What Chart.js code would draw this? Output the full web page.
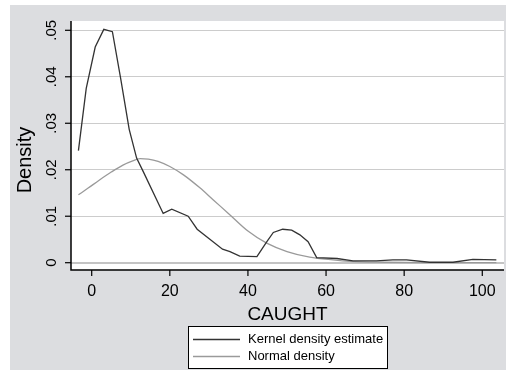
<!DOCTYPE html>
<html lang="en">
<head>
    <meta charset="UTF-8">
    <title>Kernel density of CAUGHT</title>
    <script src="https://cdn.jsdelivr.net/npm/chart.js"></script>
    <style>
        body {
            margin: 0;
            background: #fff;
        }
        .wrap {
            width: 506px;
            height: 371px;
        }
    </style>
</head>
<body>
    <div class="wrap">
        <canvas id="chart" width="506" height="371"></canvas>
    </div>

    <script>
        // kernel density estimate
        const kernelX = [-3.4, -1.4, 0.9, 3.1, 5.3, 7.4, 9.6, 11.5, 13.2, 18.3, 20.5, 24.7, 27.0, 33.5, 35.4, 37.9,
            42.3, 44.8, 46.5, 48.9, 51.2, 53.3, 55.4, 57.6, 62.8, 66.9, 72.9, 77.1, 80.6, 86.5, 92.5, 97.6, 103.6];
        const kernelY = [0.0241, 0.0375, 0.0464, 0.0502, 0.0497, 0.0397, 0.0287, 0.0225, 0.0196, 0.0106, 0.0115, 0.0100,
            0.0072, 0.0029, 0.0024, 0.0014, 0.0013, 0.0045, 0.0065, 0.0072, 0.0070, 0.0060, 0.0045, 0.0011, 0.0009,
            0.0004, 0.0004, 0.0006, 0.0006, 0.0001, 0.0001, 0.0007, 0.0006];

        // normal density
        const normalX = [-3.4, -1.0, 2.0, 5.0, 8.0, 10.5, 12.4, 14.5, 17.0, 20.0, 23.5, 27.7, 31.0, 35.0, 40.0, 44.8,
            50.0, 55.8, 61.8, 66.0, 75.0, 85.0, 103.6];
        const normalY = [0.0146, 0.0160, 0.0178, 0.0195, 0.0210, 0.0219, 0.0224, 0.0223, 0.0218, 0.0207, 0.0189, 0.0161,
            0.0136, 0.0106, 0.0068, 0.0042, 0.0024, 0.0012, 0.0006, 0.0003, 0.0001, 0.00002, 0.0];

        const xTicks = [0, 20, 40, 60, 80, 100];
        const yTicks = [0, 0.01, 0.02, 0.03, 0.04, 0.05];
        const yTickLabels = ['0', '.01', '.02', '.03', '.04', '.05'];
        const legendLabels = ['Kernel density estimate', 'Normal density'];

        const FONT = '"Liberation Sans", Arial, Helvetica, sans-serif';
        const kernelColor = '#333333';
        const normalColor = '#9a9a9a';

        // stata-like frame: gray background, axes, ticks, titles, legend
        const stataFrame = {
            id: 'stataFrame',
            beforeDraw(chart) {
                const ctx = chart.ctx;
                const a = chart.chartArea;
                ctx.save();
                ctx.fillStyle = '#fff';
                ctx.fillRect(0, 0, chart.width, chart.height);
                ctx.fillStyle = 'rgb(220,221,224)';
                ctx.fillRect(10, 5, chart.width - 10, 365);
                ctx.fillStyle = '#fff';
                ctx.fillRect(a.left, a.top, a.right - a.left, a.bottom - a.top);
                ctx.restore();
            },
            afterDraw(chart) {
                const ctx = chart.ctx;
                const a = chart.chartArea;
                const xs = chart.scales.x;
                const ys = chart.scales.y;
                ctx.save();

                // axis lines
                ctx.strokeStyle = '#000';
                ctx.lineWidth = 1.5;
                ctx.beginPath();
                ctx.moveTo(a.left, a.top);
                ctx.lineTo(a.left, a.bottom);
                ctx.lineTo(a.right, a.bottom);
                ctx.stroke();

                // x ticks
                ctx.lineWidth = 1.2;
                ctx.fillStyle = '#000';
                ctx.font = '16px ' + FONT;
                ctx.textAlign = 'center';
                ctx.textBaseline = 'middle';
                xs.ticks.forEach(t => {
                    const px = xs.getPixelForValue(t.value);
                    ctx.beginPath();
                    ctx.moveTo(px, a.bottom);
                    ctx.lineTo(px, a.bottom + 6);
                    ctx.stroke();
                    ctx.fillText(String(t.value), px, 292);
                });

                // y ticks (labels rotated)
                ctx.font = '15px ' + FONT;
                ys.ticks.forEach((t, i) => {
                    const py = ys.getPixelForValue(t.value);
                    ctx.beginPath();
                    ctx.moveTo(a.left - 6, py);
                    ctx.lineTo(a.left, py);
                    ctx.stroke();
                    ctx.save();
                    ctx.translate(51.5, py);
                    ctx.rotate(-Math.PI / 2);
                    ctx.fillText(yTickLabels[i], 0, 0);
                    ctx.restore();
                });

                // titles
                ctx.font = '19px ' + FONT;
                ctx.fillText('CAUGHT', (a.left + a.right) / 2, 315);
                ctx.save();
                ctx.translate(25, 160);
                ctx.rotate(-Math.PI / 2);
                ctx.font = '20px ' + FONT;
                ctx.fillText('Density', 0, 0);
                ctx.restore();

                // legend
                ctx.fillStyle = '#fff';
                ctx.fillRect(188.5, 326.5, 199, 42);
                ctx.strokeStyle = '#000';
                ctx.lineWidth = 1;
                ctx.strokeRect(188.5, 326.5, 199, 42);
                const colors = [kernelColor, normalColor];
                ctx.font = '13px ' + FONT;
                ctx.textAlign = 'left';
                legendLabels.forEach((lab, i) => {
                    const ly = 339.5 + i * 17;
                    ctx.strokeStyle = colors[i];
                    ctx.lineWidth = 1.3;
                    ctx.beginPath();
                    ctx.moveTo(193, ly);
                    ctx.lineTo(240, ly);
                    ctx.stroke();
                    ctx.fillStyle = '#000';
                    ctx.fillText(lab, 248, ly);
                });

                ctx.restore();
            }
        };

        new Chart(document.getElementById('chart'), {
            type: 'line',
            data: {
                datasets: [{
                    label: legendLabels[0],
                    data: kernelX.map((x, i) => ({ x: x, y: kernelY[i] })),
                    borderColor: kernelColor,
                    borderWidth: 1.3,
                    pointRadius: 0,
                    tension: 0
                }, {
                    label: legendLabels[1],
                    data: normalX.map((x, i) => ({ x: x, y: normalY[i] })),
                    borderColor: normalColor,
                    borderWidth: 1.3,
                    pointRadius: 0,
                    cubicInterpolationMode: 'monotone'
                }]
            },
            options: {
                responsive: false,
                animation: false,
                layout: { padding: { left: 71, top: 21, right: 2, bottom: 101 } },
                plugins: { legend: { display: false }, tooltip: { enabled: false } },
                scales: {
                    x: {
                        type: 'linear',
                        min: -5.3,
                        max: 105.56,
                        afterBuildTicks: s => { s.ticks = xTicks.map(v => ({ value: v })); },
                        grid: { display: false, drawTicks: false },
                        border: { display: false },
                        ticks: { display: false }
                    },
                    y: {
                        min: -0.00157,
                        max: 0.052,
                        afterBuildTicks: s => { s.ticks = yTicks.map(v => ({ value: v })); },
                        grid: {
                            drawTicks: false,
                            color: c => c.tick && c.tick.value === 0 ? '#c4c4c4' : '#cccccc',
                            lineWidth: c => c.tick && c.tick.value === 0 ? 2 : 1
                        },
                        border: { display: false },
                        ticks: { display: false }
                    }
                }
            },
            plugins: [stataFrame]
        });
    </script>
</body>
</html>
